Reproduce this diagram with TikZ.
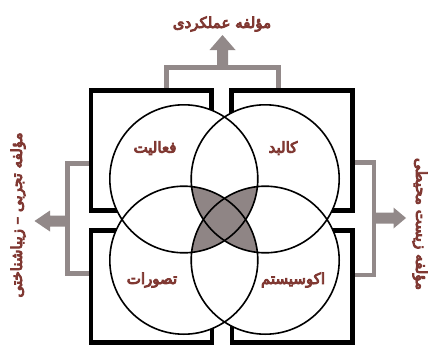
\documentclass[tikz,border=0pt]{standalone}
\usepackage{fontspec}
\newfontfamily\arabicfont[Script=Arabic,FakeBold=6]{DejaVu Sans}
\TeXXeTstate=1
\definecolor{lblcol}{RGB}{128,56,50}
\definecolor{brkcol}{RGB}{146,137,137}
\definecolor{shadecol}{RGB}{143,133,133}
\tikzset{
  lbl/.style={text=lblcol, font=\arabicfont\fontsize{15}{17}\selectfont, inner sep=0pt},
  boxline/.style={draw=black, line width=4.5pt, line join=miter},
  brk/.style={draw=brkcol, line width=4.5pt},
  bigarrow/.style={fill=brkcol},
  circline/.style={draw=black, line width=1.6pt},
}
\begin{document}
\begin{tikzpicture}[x=1pt,y=-1pt]
\useasboundingbox[fill=white] (0,0) rectangle (433,348);
% centres
\coordinate (cTL) at (183.8,178.8);
\coordinate (cTR) at (265.2,178.8);
\coordinate (cBL) at (183.8,260.2);
\coordinate (cBR) at (265.2,260.2);
% brackets
\draw[brk] (166.5,90) -- (166.5,67.5) -- (278.5,67.5) -- (278.5,90);
\fill[bigarrow] (217,69) -- (217,50) -- (209.5,50) -- (222.5,35) -- (235.5,50) -- (228,50) -- (228,69) -- cycle;
\draw[brk] (90,163.5) -- (67.5,163.5) -- (67.5,273.5) -- (90,273.5);
\fill[bigarrow] (69,215.5) -- (50,215.5) -- (50,210.5) -- (34.5,221) -- (50,231.5) -- (50,226.5) -- (69,226.5) -- cycle;
\draw[brk] (352,162.5) -- (374,162.5) -- (374,275) -- (352,275);
\fill[bigarrow] (372.5,212.5) -- (393.5,212.5) -- (393.5,207.5) -- (406,218) -- (393.5,228.5) -- (393.5,223.5) -- (372.5,223.5) -- cycle;
% boxes
\draw[boxline] (91,90.5) rectangle (211.5,210.5);
\draw[boxline] (231.5,90.5) rectangle (352.5,210.5);
\draw[boxline] (91,230.5) rectangle (212,342.5);
\draw[boxline] (232,230.5) rectangle (352.5,342.5);
% white circles
\foreach \c in {cTL,cTR,cBL,cBR} \fill[white] (\c) circle[radius=74pt];
% shaded region (covered by three circles)
\begin{scope}
  \clip (cTL) circle[radius=74pt];
  \clip (cTR) circle[radius=74pt];
  \fill[shadecol] (cBL) circle[radius=74pt];
  \fill[shadecol] (cBR) circle[radius=74pt];
\end{scope}
\begin{scope}
  \clip (cBL) circle[radius=74pt];
  \clip (cBR) circle[radius=74pt];
  \fill[shadecol] (cTL) circle[radius=74pt];
  \fill[shadecol] (cTR) circle[radius=74pt];
\end{scope}
% circle outlines
\node[circline, circle, minimum size=148pt, inner sep=0pt] (circTL) at (cTL) {};
\node[circline, circle, minimum size=148pt, inner sep=0pt] (circTR) at (cTR) {};
\node[circline, circle, minimum size=148pt, inner sep=0pt] (circBL) at (cBL) {};
\node[circline, circle, minimum size=148pt, inner sep=0pt] (circBR) at (cBR) {};
% labels
\node[lbl] (tFa) at (155,148) {\beginR فعالیت\endR};
\node[lbl] (tKa) at (283,148) {\beginR کالبد\endR};
\node[lbl] (tTa) at (152,280) {\beginR تصورات\endR};
\node[lbl] (tEk) at (293,280) {\beginR اکوسیستم\endR};
\node[lbl] (tTop) at (222,24) {\beginR مؤلفه عملکردی\endR};
\node[lbl, rotate=90] (tLeft) at (18,215) {\beginR مؤلفه تجربی – زیباشناختی\endR};
\node[lbl, rotate=-90] (tRight) at (420,224) {\beginR مؤلفه زیست محیطی\endR};
\end{tikzpicture}
\end{document}
